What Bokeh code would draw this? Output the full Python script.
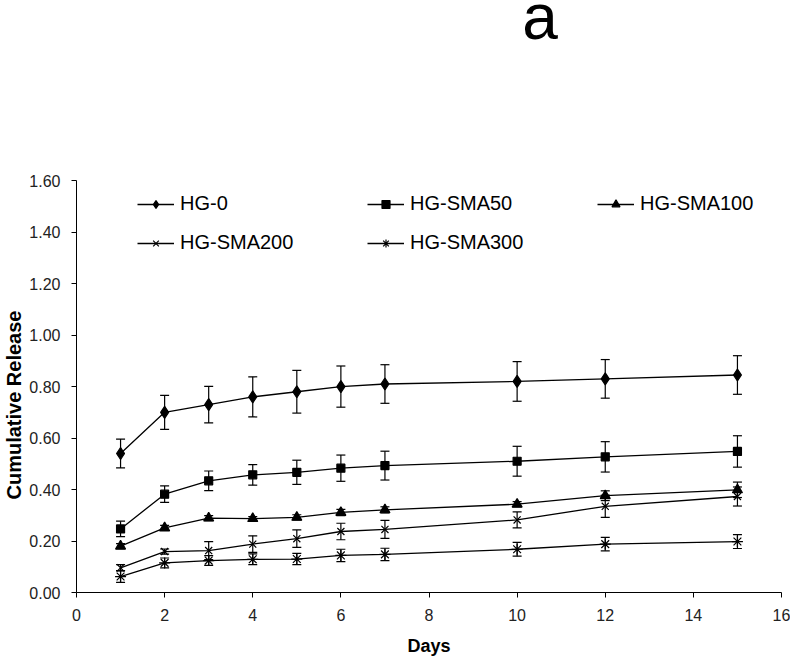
from bokeh.plotting import figure
from bokeh.models import (Range1d, FixedTicker, NumeralTickFormatter, Whisker, TeeHead,
                          ColumnDataSource, Legend, LegendItem, Title, Label)
from bokeh.embed import file_html
from bokeh.resources import INLINE

# ---- data ----
days = [1, 2, 3, 4, 5, 6, 7, 10, 12, 15]
series_names = ["HG-0", "HG-SMA50", "HG-SMA100", "HG-SMA200", "HG-SMA300"]
hg0 = [0.54, 0.70, 0.73, 0.76, 0.78, 0.80, 0.81, 0.82, 0.83, 0.845]
hg0_err = [0.056, 0.066, 0.071, 0.078, 0.083, 0.080, 0.075, 0.077, 0.075, 0.075]
sma50 = [0.247, 0.382, 0.434, 0.457, 0.467, 0.483, 0.493, 0.510, 0.527, 0.548]
sma50_err = [0.030, 0.032, 0.038, 0.040, 0.047, 0.051, 0.056, 0.058, 0.059, 0.061]
sma100 = [0.180, 0.251, 0.289, 0.287, 0.292, 0.311, 0.321, 0.343, 0.376, 0.399]
sma100_err = [0.010, 0.010, 0.010, 0.008, 0.010, 0.012, 0.012, 0.010, 0.019, 0.030]
sma200 = [0.096, 0.159, 0.163, 0.188, 0.209, 0.237, 0.245, 0.282, 0.335, 0.373]
sma200_err = [0.012, 0.010, 0.035, 0.032, 0.034, 0.032, 0.035, 0.031, 0.043, 0.037]
sma300 = [0.062, 0.115, 0.124, 0.129, 0.130, 0.144, 0.148, 0.168, 0.188, 0.198]
sma300_err = [0.023, 0.019, 0.019, 0.021, 0.022, 0.024, 0.024, 0.027, 0.026, 0.027]
x_ticks = [0, 2, 4, 6, 8, 10, 12, 14, 16]
y_ticks = [0.0, 0.2, 0.4, 0.6, 0.8, 1.0, 1.2, 1.4, 1.6]
panel_label = "a"

FONT = "Liberation Sans"

# the frame reaches the top of the canvas so that the panel letter can sit inside it;
# the y axis itself is bounded to 0..1.6
p = figure(width=790, height=660, output_backend="svg", toolbar_location=None,
           x_range=Range1d(0, 16), y_range=Range1d(0, 2.3),
           min_border_left=76, min_border_right=9, min_border_top=0, min_border_bottom=68)
p.outline_line_color = None
p.xgrid.visible = False
p.ygrid.visible = False
p.background_fill_color = "white"
p.border_fill_color = "white"

for ax in (p.xaxis[0], p.yaxis[0]):
    ax.axis_line_color = "black"
    ax.major_tick_line_color = "black"
    ax.major_tick_out = 5
    ax.major_tick_in = 0
    ax.minor_tick_line_color = None
    ax.major_label_text_font = FONT
    ax.major_label_text_font_size = "16px"
    ax.major_label_text_color = "#222222"
    ax.major_label_standoff = 11

p.xaxis.ticker = FixedTicker(ticks=x_ticks)
p.yaxis.ticker = FixedTicker(ticks=y_ticks)
p.yaxis.bounds = (0, 1.6)
p.yaxis.formatter = NumeralTickFormatter(format="0.00")
p.xaxis.axis_label = "Days"
p.xaxis.axis_label_text_font = FONT
p.xaxis.axis_label_text_font_style = "bold"
p.xaxis.axis_label_text_font_size = "18px"
p.xaxis.axis_label_text_color = "black"
p.xaxis.axis_label_standoff = 12

ys = [hg0, sma50, sma100, sma200, sma300]
errs = [hg0_err, sma50_err, sma100_err, sma200_err, sma300_err]
markers = ["diamond", "square", "triangle", "x", "asterisk"]
sizes = [12, 8, 10, 10, 11]

items = []
for name, y, e, mk, sz in zip(series_names, ys, errs, markers, sizes):
    src = ColumnDataSource(dict(x=days, y=y,
                                lo=[a - b for a, b in zip(y, e)],
                                hi=[a + b for a, b in zip(y, e)]))
    w = Whisker(base="x", lower="lo", upper="hi", source=src, line_color="black", line_width=1.2,
                lower_head=TeeHead(size=9, line_color="black", line_width=1.2),
                upper_head=TeeHead(size=9, line_color="black", line_width=1.2))
    p.add_layout(w)
    lr = p.line("x", "y", source=src, line_color="black", line_width=1.3)
    sr = p.scatter("x", "y", source=src, marker=mk, size=sz, fill_color="black",
                   line_color="black", line_width=1.2)
    items.append(LegendItem(label=name, renderers=[lr, sr]))

legend = Legend(items=items, orientation="horizontal", ncols=3,
                location=(61, 338), margin=0, padding=0,
                glyph_width=37, glyph_height=20, label_standoff=6,
                label_width=171, spacing=16,
                label_text_font=FONT, label_text_font_size="20px", label_text_color="black",
                border_line_color=None, background_fill_alpha=0)
p.add_layout(legend)

ylab = Title(text="Cumulative Release", align="left", offset=93, vertical_align="middle",
             standoff=2, text_font=FONT, text_font_style="bold", text_font_size="20px",
             text_color="black")
p.add_layout(ylab, "left")

p.add_layout(Label(x=10.52, y=2.234, text=panel_label, text_align="center",
                   text_baseline="alphabetic", text_font=FONT, text_font_size="64px",
                   text_color="black"))

open("out.html", "w").write(file_html(p, INLINE))
